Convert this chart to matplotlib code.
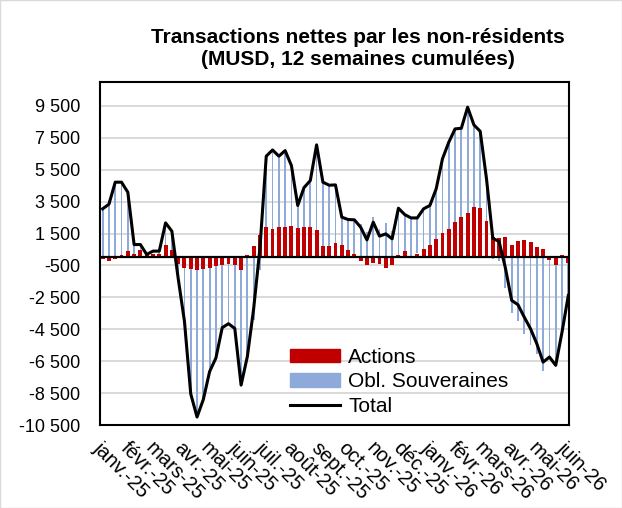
import numpy as np
import pandas as pd
import matplotlib
matplotlib.use("Agg")
import matplotlib.pyplot as plt
from matplotlib.patches import Patch
from matplotlib.lines import Line2D
from matplotlib.ticker import FuncFormatter

plt.rcParams["font.family"] = ["Liberation Sans", "DejaVu Sans"]

# séries hebdomadaires (MUSD, 12 semaines cumulées)
start_date = "2025-01-03"
actions = [-120, -250, -80, 170, 400, 230, 440, 210, 250, 200,
           810, 480, -380, -630, -730, -790, -750, -630, -560, -450,
           -400, -450, -800, 150, 710, 1380, 1900, 1800, 1900, 1940,
           1980, 1840, 1920, 1940, 1750, 710, 710, 880, 770, 500,
           210, -210, -480, -330, -420, -690, -480, 150, 400, 30,
           250, 560, 810, 1190, 1550, 1780, 2200, 2520, 2770, 3170,
           3080, 2310, 1310, 1230, 1260, 790, 1040, 1080, 990, 660,
           540, -160, -490, 140, -330]
total = [3050, 3340, 4720, 4720, 4090, 810, 810, 190, 400, 400,
         2170, 1650, -1300, -4000, -8550, -10000, -8900, -7150, -6300, -4400,
         -4150, -4450, -8000, -6200, -3200, 600, 6350, 6740, 6350, 6700,
         5760, 3260, 4380, 4820, 7060, 4720, 4530, 4550, 2530, 2380,
         2360, 1900, 1100, 2210, 1340, 1480, 1170, 3090, 2690, 2480,
         2480, 3050, 3260, 4300, 6180, 7220, 8060, 8100, 9420, 8310,
         7910, 4930, 1200, 1000, -650, -2690, -2960, -3740, -4470, -5410,
         -6560, -6240, -6760, -4680, -2380]
month_labels = ["janv.-25", "févr.-25", "mars-25", "avr.-25", "mai-25", "juin-25",
                "juil.-25", "août-25", "sept.-25", "oct.-25", "nov.-25", "déc.-25",
                "janv.-26", "févr.-26", "mars-26", "avr.-26", "mai-26", "juin-26"]

actions = np.array(actions)
total = np.array(total)
obl = total - actions
x = np.arange(len(total))

# les obligations s'empilent sur les actions quand elles ont le même signe
obl_bottom = np.where(np.sign(obl) == np.sign(actions), actions, 0)

# positions des mois sur l'axe (en semaines)
start = pd.Timestamp(start_date)
month_dates = [start + pd.DateOffset(months=k) for k in range(len(month_labels))]
month_pos = [(d - start).days / 7 for d in month_dates]

fig = plt.figure(figsize=(6.22, 5.08), dpi=100)
ax = fig.add_axes([100 / 622, 83 / 508, 469 / 622, 343 / 508])

ax.bar(x, actions, width=0.62, color="#c00000", zorder=2)
ax.bar(x, obl, width=0.28, bottom=obl_bottom, color="#8eaadb", zorder=2)
ax.axhline(0, color="black", lw=1.6, zorder=3)
ax.plot(x, total, color="black", lw=2.2, zorder=4)

yticks = np.arange(-10500, 9501, 2000)
ax.set_yticks(yticks)
ax.yaxis.set_major_formatter(FuncFormatter(lambda v, p: f"{int(v):,}".replace(",", " ")))
ax.set_ylim(-10500, 11000)
ax.set_xlim(-0.42, 74.11)
ax.grid(axis="y", color="#d9d9d9", lw=1.4, zorder=0)
ax.set_axisbelow(True)

ax.set_xticks(month_pos)
ax.set_xticklabels(month_labels, rotation=-45, ha="left", va="top", rotation_mode="anchor")
ax.tick_params(axis="both", length=0)
ax.tick_params(axis="y", pad=14, labelsize=13)
ax.tick_params(axis="x", pad=10, labelsize=14.5)

for s in ax.spines.values():
    s.set_color("black")
    s.set_linewidth(1.5)

handles = [Patch(color="#c00000"), Patch(color="#8eaadb"),
           Line2D([0], [0], color="black", lw=2.2)]
ax.legend(handles, ["Actions", "Obl. Souveraines", "Total"], loc="lower left",
          bbox_to_anchor=(0.374, -0.015), frameon=False, fontsize=15,
          handlelength=2.4, handleheight=0.6, labelspacing=0.25,
          handletextpad=0.4, borderaxespad=0.3)

fig.text(0.575, 0.905, "Transactions nettes par les non-résidents\n(MUSD, 12 semaines cumulées)",
         ha="center", va="center", fontsize=15, fontweight="bold", linespacing=1.2)

fig.patches.append(plt.Rectangle((0, 0), 1, 1, transform=fig.transFigure,
                                 fill=False, edgecolor="#d9d9d9", lw=1))

fig.savefig("out.png", dpi=100)
